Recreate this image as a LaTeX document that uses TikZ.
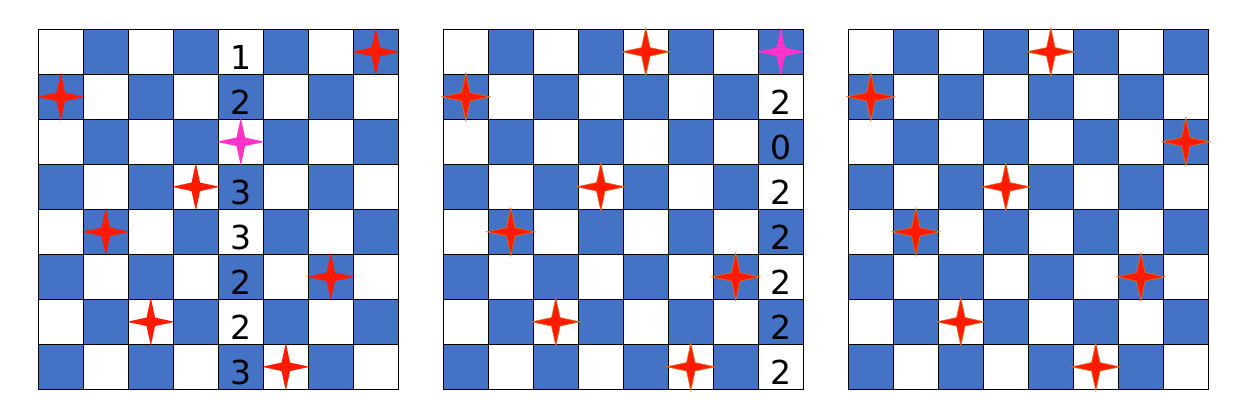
\documentclass[tikz,border=0pt]{standalone}
\usepackage{fontspec}
\setmainfont{DejaVu Sans}
\definecolor{cellblue}{HTML}{4472C4}
\definecolor{starred}{HTML}{FF1A00}
\definecolor{starpink}{HTML}{FF33CC}
\definecolor{starline}{HTML}{D9731F}
\tikzset{
  cellbox/.style={draw=black, line width=0.9pt},
  num/.style={anchor=base, inner sep=0pt, font=\fontsize{33}{33}\selectfont, text=black},
  fourstar/.pic={\path[pic actions] (0,24) -- (4.24,4.24) -- (24,0) -- (4.24,-4.24) -- (0,-24) -- (-4.24,-4.24) -- (-24,0) -- (-4.24,4.24) -- cycle;},
  redstar/.style={fill=starred},
  redstarline/.style={fill=starred, draw=starline, line width=0.6pt},
  pinkstar/.style={fill=starpink}
}
\begin{document}
\begin{tikzpicture}[x=1pt,y=1pt]
\useasboundingbox (0,0) rectangle (1244,-405);
% boards
\foreach \b in {0,1,2}{
  \foreach \r in {0,...,7}{
    \foreach \c in {0,...,7}{
      \pgfmathtruncatemacro\odd{mod(\r+\c,2)}
      \ifnum\odd=1 \def\cellcol{cellblue}\else\def\cellcol{white}\fi
      \filldraw[cellbox, fill=\cellcol] ({38.3+405*\b+45*\c},{-29.3-45*\r}) rectangle ++(45,-45);
    }
  }
}
% numbers board 1 (column 5)
\foreach \r/\t in {0/1,1/2,3/3,4/3,5/2,6/2,7/3}{
  \node[num] (a\r) at ({38.3+45*4.5},{-29.3-45*(\r+1)+5}) {\t};
}
% numbers board 2 (column 8)
\foreach \r/\t in {1/2,2/0,3/2,4/2,5/2,6/2,7/2}{
  \node[num] (b\r) at ({443.3+45*7.5},{-29.3-45*(\r+1)+5}) {\t};
}
% stars board 1
\foreach \c/\r in {7/0,0/1,3/3,1/4,6/5,2/6,5/7}{
  \pic[redstar] at ({38.3+45*(\c+0.5)},{-29.3-45*(\r+0.5)}) {fourstar};
}
\pic[pinkstar] at ({38.3+45*4.5},{-29.3-45*2.5}) {fourstar};
% stars board 2
\foreach \c/\r in {4/0,0/1,3/3,1/4,6/5,2/6,5/7}{
  \pic[redstarline] at ({443.3+45*(\c+0.5)},{-29.3-45*(\r+0.5)}) {fourstar};
}
\pic[pinkstar] at ({443.3+45*7.5},{-29.3-45*0.5}) {fourstar};
% stars board 3
\foreach \c/\r in {4/0,0/1,7/2,3/3,1/4,6/5,2/6,5/7}{
  \pic[redstarline] at ({848.3+45*(\c+0.5)},{-29.3-45*(\r+0.5)}) {fourstar};
}
\end{tikzpicture}
\end{document}
